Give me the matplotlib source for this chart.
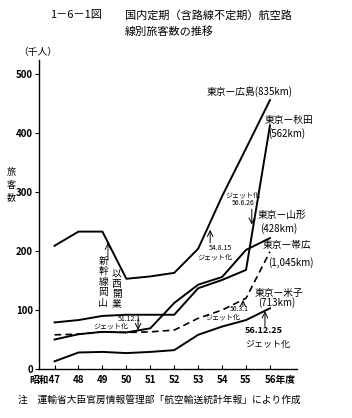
import matplotlib
matplotlib.use('Agg')
import matplotlib.pyplot as plt
from matplotlib.transforms import ScaledTranslation

plt.rcParams['font.family'] = ['Noto Sans CJK JP', 'DejaVu Sans']

# 年度（昭和）
years = [47, 48, 49, 50, 51, 52, 53, 54, 55, 56]

# 路線別旅客数（千人）— 図から読み取った概算値
hiroshima = [209, 233, 233, 153, 157, 163, 204, 293, 374, 456]
akita = [79, 83, 90, 92, 92, 92, 137, 151, 168, 413]
yamagata = [50, 59, 63, 62, 69, 112, 143, 156, 202, 222]
obihiro = [58, 59, 63, 62, 63, 66, 86, 100, 120, 199]
yonago = [13, 28, 29, 27, 29, 32, 58, 72, 83, 103]

yticks = [0, 100, 200, 300, 400, 500]
xlabels = ['昭和47', '48', '49', '50', '51', '52', '53', '54', '55', '56年度']

fig = plt.figure(figsize=(3.52, 4.18), dpi=100)
ax = fig.add_axes([0.1108, 0.1172, 0.733, 0.7393])

lw = 1.4
ax.plot(years, hiroshima, color='black', lw=lw)
ax.plot(years, akita, color='black', lw=lw)
ax.plot(years, yamagata, color='black', lw=lw)
ax.plot(years, obihiro, color='black', lw=1.2, ls=(0, (4, 2.5)))
ax.plot(years, yonago, color='black', lw=lw)

ax.set_xlim(46.35, 57.13)
ax.set_ylim(0, 524)
ax.spines['top'].set_visible(False)
ax.spines['right'].set_visible(False)
ax.spines['left'].set_linewidth(1.0)
ax.spines['bottom'].set_linewidth(1.0)

ax.set_yticks(yticks)
ax.set_yticklabels([str(v) for v in yticks], fontsize=7, fontweight='bold')
ax.tick_params(axis='y', direction='out', length=3, width=0.8, pad=1.5)
ax.set_xticks(years)
ax.set_xticklabels(xlabels, fontsize=7, fontweight='bold')
ax.tick_params(axis='x', direction='in', length=3, width=0.8, pad=4)

# 「昭和47」「56年度」は数字部分が目盛の下に来るようにずらす
tl = ax.get_xticklabels()
tl[0].set_horizontalalignment('right')
tl[0].set_transform(tl[0].get_transform() + ScaledTranslation(6 / 100, 0, fig.dpi_scale_trans))
tl[-1].set_horizontalalignment('left')
tl[-1].set_transform(tl[-1].get_transform() + ScaledTranslation(-5 / 100, 0, fig.dpi_scale_trans))

# 路線名ラベル
lab = dict(fontsize=7, ha='left', va='center')
ax.text(53.37, 470, '東京ー広島(835km)', **lab)
ax.text(55.79, 422, '東京ー秋田', **lab)
ax.text(55.92, 400, '(562km)', **lab)
ax.text(55.5, 261, '東京ー山形', **lab)
ax.text(55.58, 239, '(428km)', **lab)
ax.text(55.71, 210, '東京ー帯広', **lab)
ax.text(55.92, 181, '(1,045km)', **lab)
ax.text(55.37, 129, '東京ー米子', **lab)
ax.text(55.5, 112, '(713km)', **lab)

# ジェット化の注記
small = dict(fontsize=5, ha='center', va='center')
arrow = dict(arrowstyle='->', lw=0.7, color='black', shrinkA=0, shrinkB=0)

ax.text(54.87, 295, 'ジェット化', **small)
ax.text(54.87, 281, '56.6.26', **small)
ax.annotate('', xy=(55.24, 245), xytext=(55.24, 271), arrowprops=arrow)

ax.text(53.91, 205, '54.8.15', **small)
ax.text(53.7, 189, 'ジェット化', **small)
ax.annotate('', xy=(53.5, 236), xytext=(53.5, 214), arrowprops=arrow)

ax.text(54.7, 101, '56.3.1', **small)
ax.text(54.04, 87, 'ジェット化', **small)
ax.annotate('', xy=(54.87, 117), xytext=(54.87, 106), arrowprops=arrow)

ax.text(50.11, 84, '51.12.1', **small)
ax.text(49.36, 72, 'ジェット化', **small)
ax.annotate('', xy=(50.49, 66), xytext=(50.49, 86), arrowprops=arrow)

ax.text(54.96, 66, '56.12.25', fontsize=6.5, fontweight='bold', ha='left', va='center')
ax.text(54.96, 41, 'ジェット化', fontsize=6.5, ha='left', va='center')
ax.annotate('', xy=(55.79, 98), xytext=(55.79, 72), arrowprops=arrow)

# 新幹線岡山以西開業
ax.annotate('', xy=(49.23, 214), xytext=(49.23, 185),
            arrowprops=dict(arrowstyle='->', lw=0.7, ls=(0, (2, 1)),
                            color='black', shrinkA=0, shrinkB=0))
ax.text(49.03, 148, '\n'.join('新幹線岡山'), fontsize=7, ha='center', va='center',
        linespacing=1.05)
ax.text(49.6, 136, '\n'.join('以西開業'), fontsize=7, ha='center', va='center',
        linespacing=1.05)

# タイトル・軸名・注
fig.text(50 / 352, 1 - 15 / 418, '1－6－1図', fontsize=8, ha='left', va='center')
fig.text(125 / 352, 1 - 15 / 418, '国内定期（含路線不定期）航空路', fontsize=8,
         ha='left', va='center')
fig.text(125 / 352, 1 - 32 / 418, '線別旅客数の推移', fontsize=8, ha='left', va='center')
fig.text(18 / 352, 1 - 52 / 418, '（千人）', fontsize=7, ha='left', va='center')
fig.text(11 / 352, 1 - 185 / 418, '\n'.join('旅客数'), fontsize=6.5, ha='center',
         va='center', linespacing=1.55)
fig.text(18 / 352, 1 - 400 / 418,
         '注　運輸省大臣官房情報管理部「航空輸送統計年報」により作成',
         fontsize=7, ha='left', va='center')

fig.savefig('out.png', dpi=100)
